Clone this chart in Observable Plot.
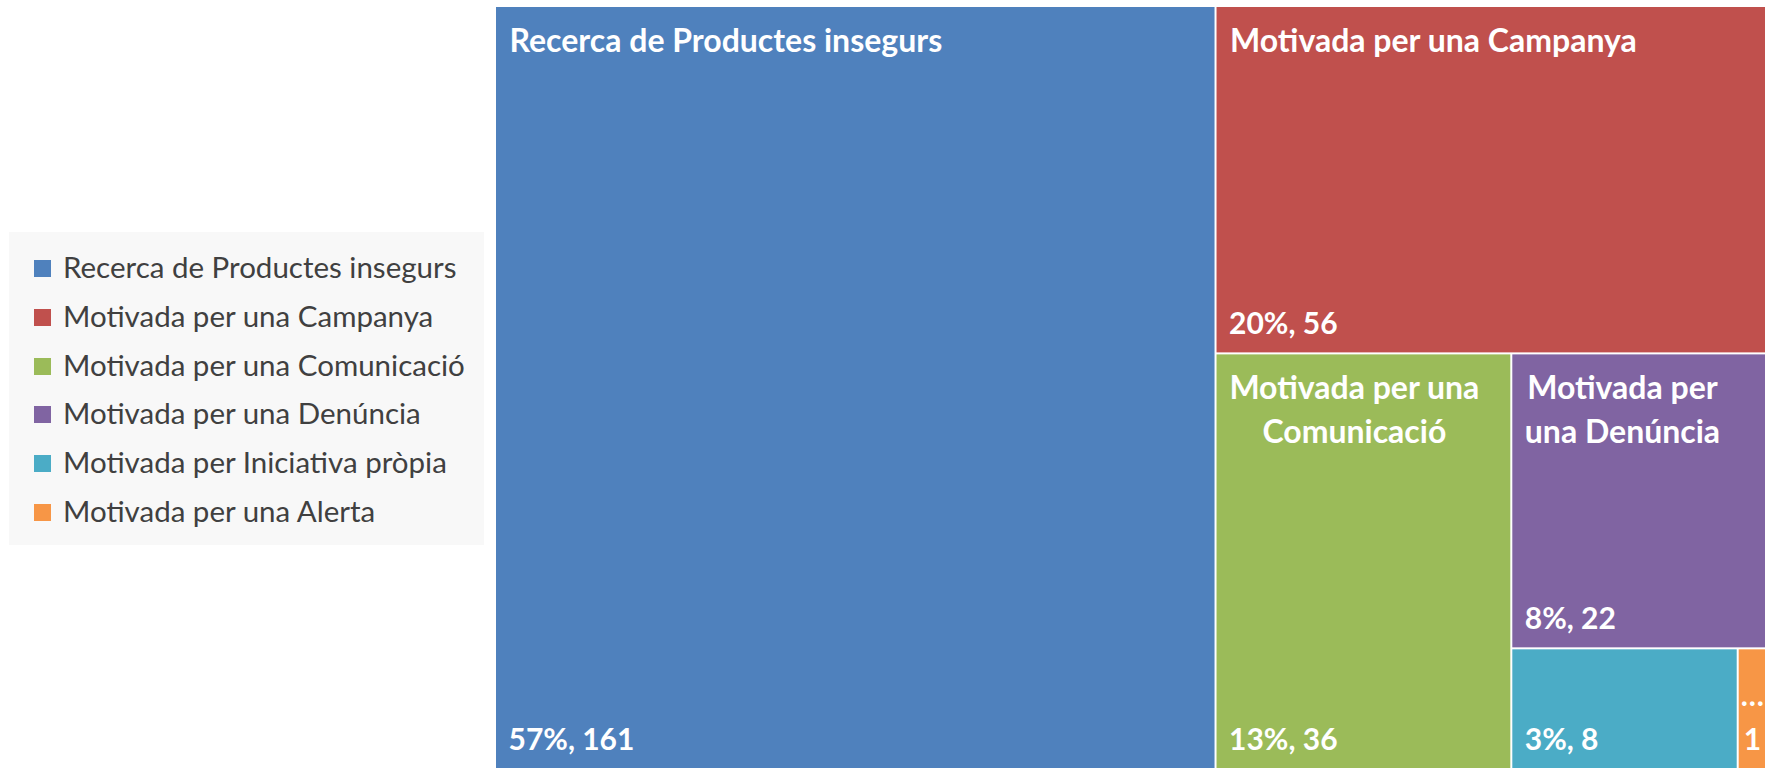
<!DOCTYPE html>
<html>
<head>
<meta charset="utf-8">
<script src="https://cdn.jsdelivr.net/npm/d3@7"></script>
<script src="https://cdn.jsdelivr.net/npm/@observablehq/plot@0.6"></script>
<style>
  html, body { margin: 0; padding: 0; background: #ffffff; }
  body { width: 1772px; height: 768px; position: relative; overflow: hidden; font-family: Lato, "Open Sans", sans-serif; }
  #chart { position: absolute; left: 0; top: 0; }
  #legend { position: absolute; left: 9px; top: 232px; width: 475px; height: 313px; background: #f8f8f8; z-index: 2; }
  .row { position: absolute; left: 0; height: 48.8px; line-height: 48.8px; white-space: nowrap; font-size: 29.5px; color: #404040; }
  .sw { position: absolute; left: 25px; width: 17px; height: 17px; }
  .lab { position: absolute; left: 54px; top: 0; }
</style>
</head>
<body>
<div id="chart"></div>
<div id="legend"></div>
<script>
// ---- data ----
const categories = [
  "Recerca de Productes insegurs",
  "Motivada per una Campanya",
  "Motivada per una Comunicació",
  "Motivada per una Denúncia",
  "Motivada per Iniciativa pròpia",
  "Motivada per una Alerta"
];
const values = [161, 56, 36, 22, 8, 1];
const colors = ["#4F81BD", "#C0504D", "#9BBB59", "#8064A2", "#4BACC6", "#F79646"];
// category labels as they appear inside the cells (wrapped / hidden / truncated)
const cellTitles = [
  "Recerca de Productes insegurs",
  "Motivada per una Campanya",
  "Motivada per una\nComunicació",
  "Motivada per\nuna Denúncia",
  "",
  "…"
];

// ---- layout ----
const W = 1269, H = 761;
const total = d3.sum(values);
const root = d3.hierarchy({children: categories.map((c, i) => ({name: c, value: values[i], i}))})
  .sum(d => d.value || 0)
  .sort((a, b) => b.value - a.value);
d3.treemap().size([W, H]).tile(d3.treemapSquarify.ratio(1)).paddingInner(2)(root);

const titleFont = 32, valueFont = 30, lineH = 44;
const canvas = document.createElement("canvas");
const ctx = canvas.getContext("2d");
ctx.font = `bold ${titleFont}px Lato`;

const cells = root.leaves().map(n => {
  const d = n.data;
  const title = cellTitles[d.i];
  const lines = title ? title.split("\n") : [];
  const narrow = (n.x1 - n.x0) < 60;
  const blockW = d3.max(lines, l => ctx.measureText(l).width) || 0;
  return {
    name: d.name, value: d.value,
    x0: n.x0, x1: n.x1, y0: n.y0, y1: n.y1,
    narrow,
    title,
    lines: lines.length,
    titleX: lines.length > 1 ? n.x0 + 12 + blockW / 2 : n.x0 + 13,
    titleY: n.y0 + 44 + (lines.length - 1) * lineH,
    valueLabel: narrow ? `${title}\n${d.value}` : `${Math.round(d.value / total * 100)}%, ${d.value}`
  };
});

const single = cells.filter(d => !d.narrow && d.lines === 1);
const multi = cells.filter(d => !d.narrow && d.lines > 1);
const wide = cells.filter(d => !d.narrow);
const narrow = cells.filter(d => d.narrow);

const textBase = {fill: "white", fontFamily: "Lato", fontWeight: "bold", lineAnchor: "bottom"};

const chart = Plot.plot({
  width: 1772,
  height: 768,
  marginLeft: 496,
  marginRight: 7,
  marginTop: 7,
  marginBottom: 0,
  style: {background: "transparent"},
  x: {domain: [0, W], axis: null},
  y: {domain: [0, H], axis: null, reverse: true},
  color: {domain: categories, range: colors},
  marks: [
    Plot.rect(cells, {x1: "x0", x2: "x1", y1: "y0", y2: "y1", fill: "name"}),
    Plot.text(single, {...textBase, x: "titleX", y: "titleY", text: "title", textAnchor: "start", fontSize: titleFont}),
    Plot.text(multi, {...textBase, x: "titleX", y: "titleY", text: "title", textAnchor: "middle", fontSize: titleFont, lineHeight: lineH / titleFont}),
    Plot.text(wide, {...textBase, x: d => d.x0 + 12, y: d => d.y1 - 19, text: "valueLabel", textAnchor: "start", fontSize: valueFont}),
    Plot.text(narrow, {...textBase, x: d => (d.x0 + d.x1) / 2, y: d => d.y1 - 19, text: "valueLabel", textAnchor: "middle", fontSize: valueFont, lineHeight: lineH / valueFont})
  ]
});
document.getElementById("chart").appendChild(chart);

// ---- legend ----
const legend = document.getElementById("legend");
categories.forEach((c, i) => {
  const row = document.createElement("div");
  row.className = "row";
  row.style.top = `${11 + i * 48.8}px`;
  row.style.width = "475px";
  const sw = document.createElement("div");
  sw.className = "sw";
  sw.style.background = colors[i];
  sw.style.top = `${36 - 19}px`;
  const lab = document.createElement("span");
  lab.className = "lab";
  lab.textContent = c;
  row.appendChild(sw);
  row.appendChild(lab);
  legend.appendChild(row);
});
</script>
</body>
</html>
